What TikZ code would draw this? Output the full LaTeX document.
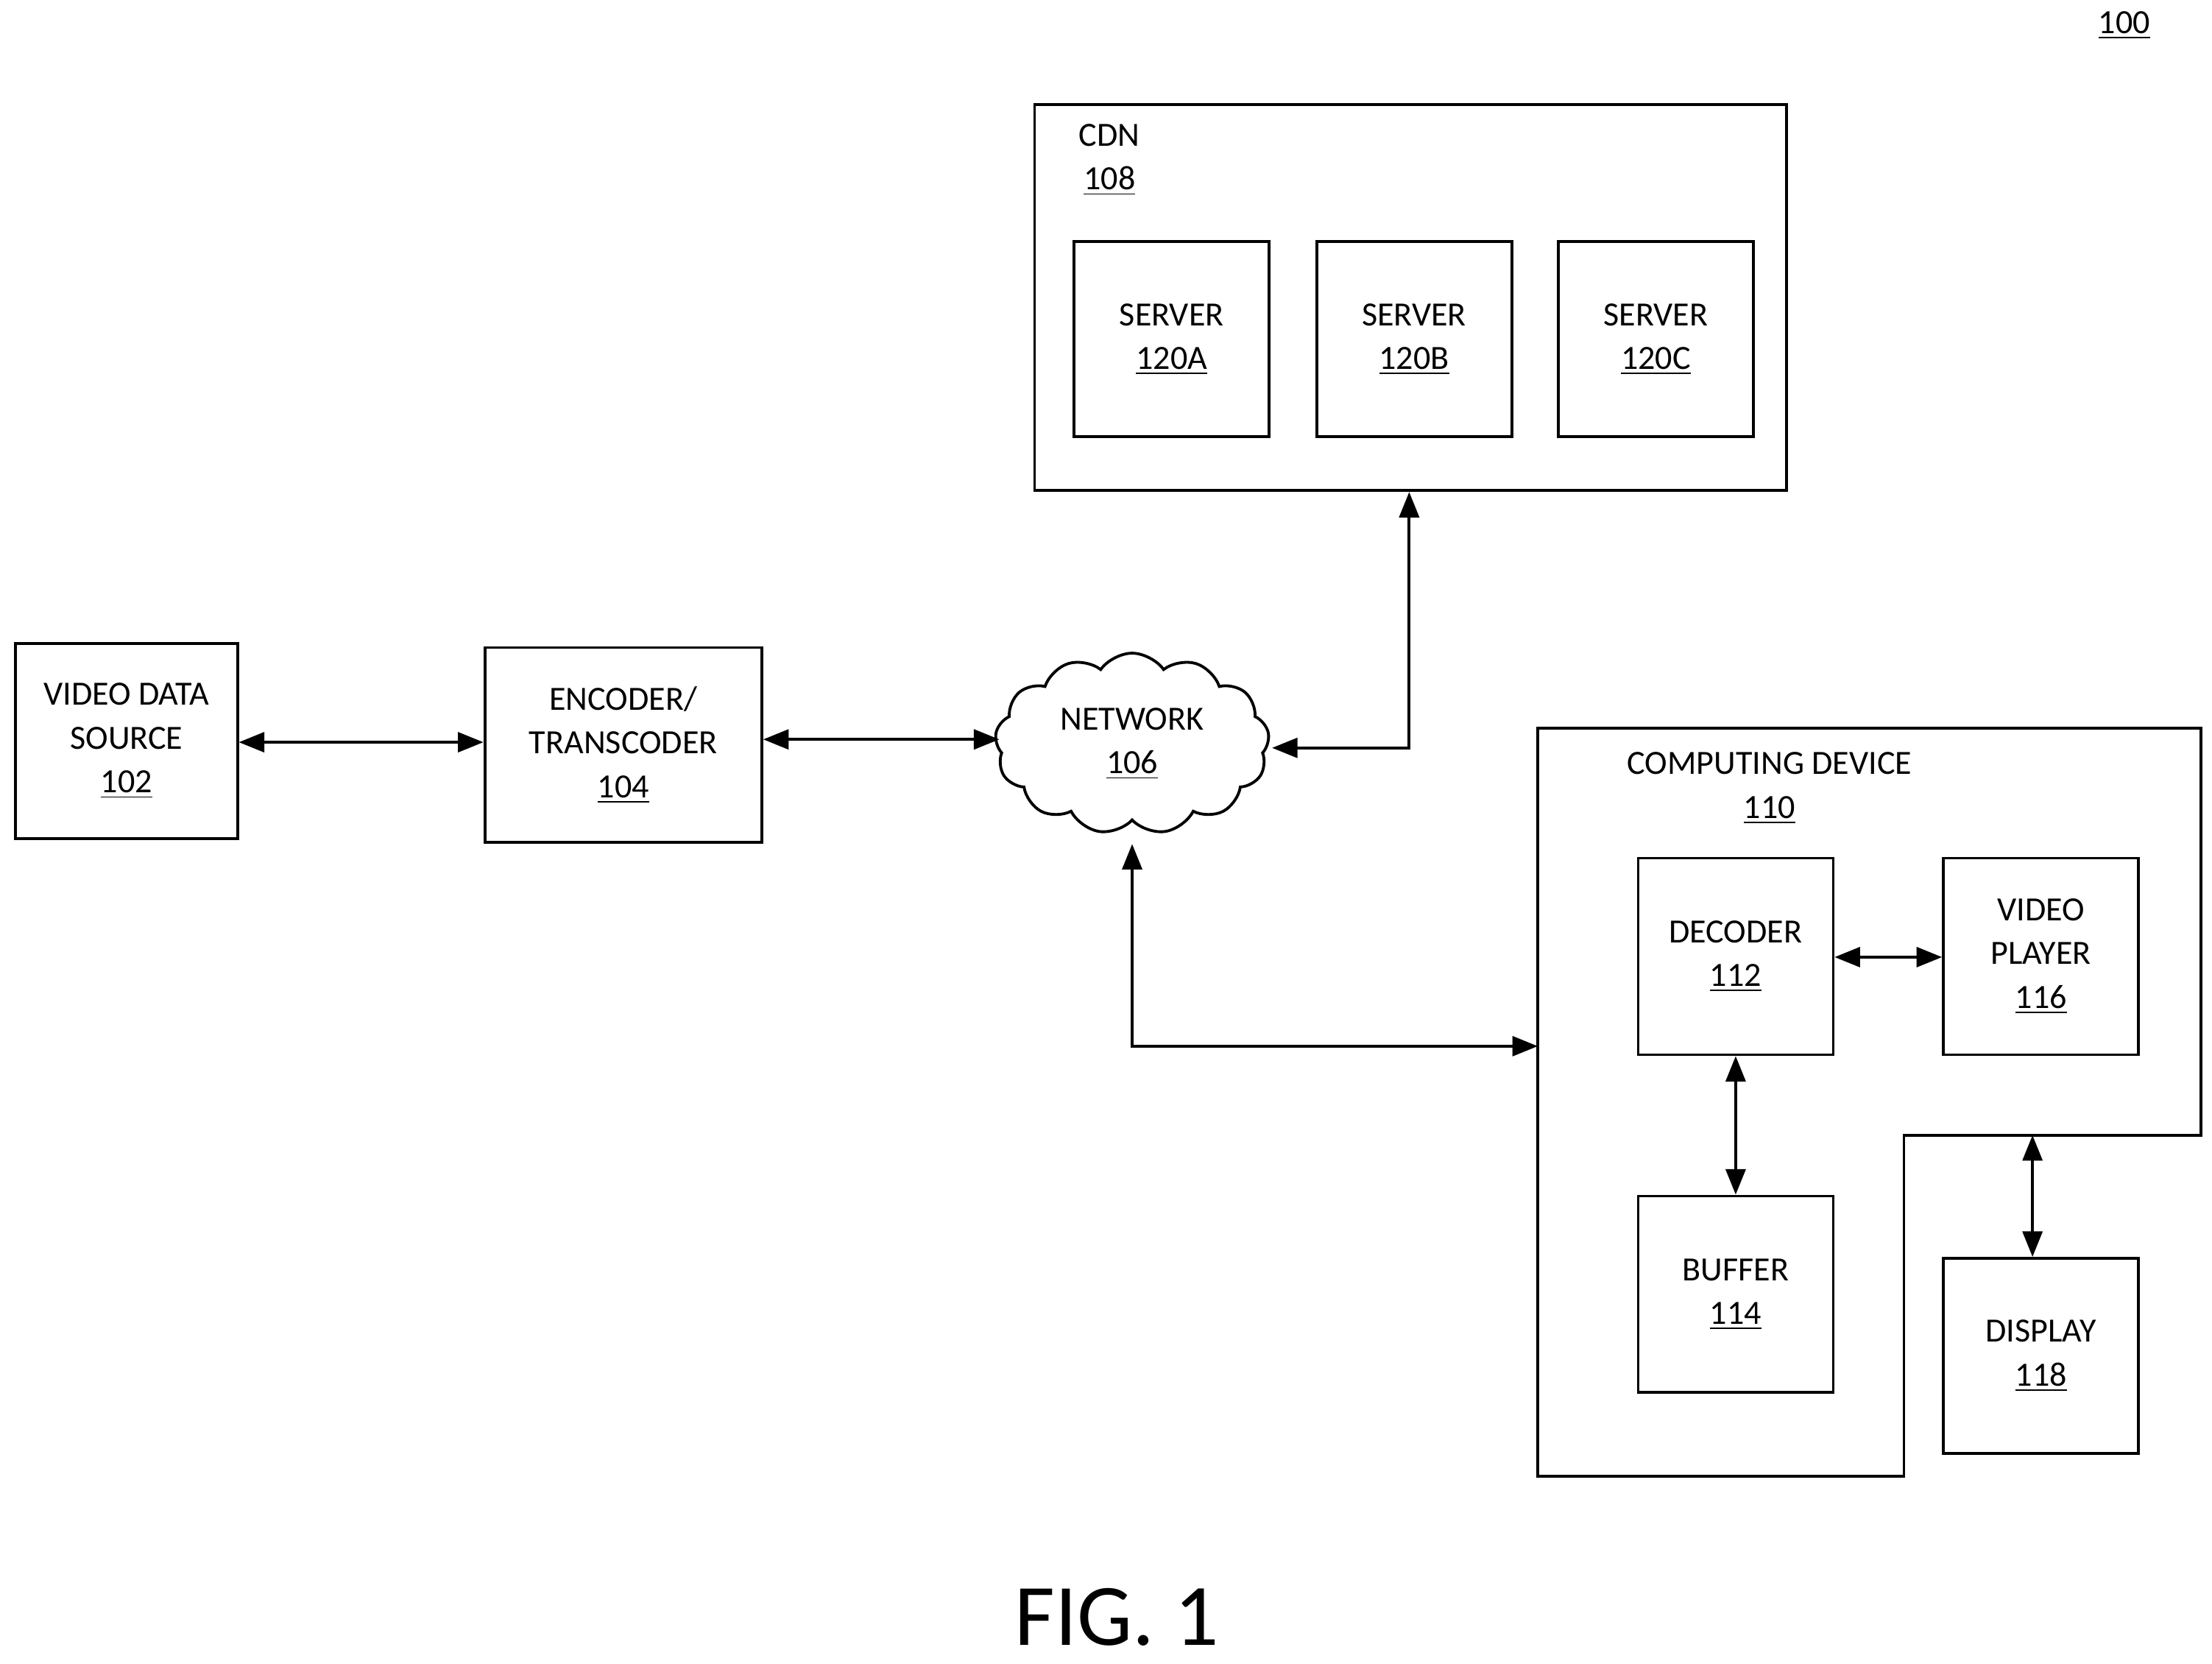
\documentclass[tikz,border=0pt]{standalone}
\usepackage{fontspec}
\setmainfont{Carlito}
\usetikzlibrary{arrows.meta,shapes.symbols}
\begin{document}
\begin{tikzpicture}[x=0.5pt,y=-0.5pt,
  box/.style={draw,line width=1pt,align=center,inner sep=0pt},
  lbl/.style={align=center,inner sep=0pt},
  ar/.style={line width=1pt,{Triangle[length=9pt,width=7pt]}-{Triangle[length=9pt,width=7pt]}},
  every node/.style={font=\fontsize{12}{15.5}\selectfont}]
\useasboundingbox (0,0) rectangle (1565,1177);
\node[lbl] (n100) at (1503,18) {\underline{100}};
% CDN
\node[box,minimum width=266pt,minimum height=136.5pt] (cdn) at (998,210.5) {};
\node[lbl] (cdnl) at (785,113) {CDN\\\underline{108}};
\foreach \n/\x/\t in {sa/829/120A,sb/1000.5/120B,sc/1171.5/120C}
  \node[box,minimum width=69pt,minimum height=69pt] (\n) at (\x,240) {SERVER\\\underline{\t}};
\node[box,minimum width=78.5pt,minimum height=69pt] (vds) at (89.5,524) {VIDEO DATA\\SOURCE\\\underline{102}};
\node[box,minimum width=98pt,minimum height=69pt] (enc) at (441,527) {ENCODER/\\TRANSCODER\\\underline{104}};
\node[draw,line width=1pt,cloud,cloud puffs=13,cloud puff arc=110,aspect=1.6,minimum width=97pt,minimum height=64pt,align=center,inner sep=0pt] (net) at (801,526) {NETWORK\\\underline{106}};
% computing device
\draw[line width=1pt] (1088,515) coordinate (cd) -- (1557,515) -- (1557,803) -- (1347,803) coordinate (notch) -- (1347,1044) -- (1088,1044) -- cycle;
\node[lbl] (cdl) at (1252,557.5) {COMPUTING DEVICE\\\underline{110}};
\node[box,minimum width=69pt,minimum height=69.5pt] (dec) at (1228,676.5) {DECODER\\\underline{112}};
\node[box,minimum width=69pt,minimum height=69.5pt] (vp) at (1444,676.5) {VIDEO\\PLAYER\\\underline{116}};
\node[box,minimum width=69pt,minimum height=69.5pt] (buf) at (1228,915.5) {BUFFER\\\underline{114}};
\node[box,minimum width=69pt,minimum height=69pt] (disp) at (1444,959) {DISPLAY\\\underline{118}};
\coordinate (cdin) at (1088,740);
\coordinate (cdb) at (1438,803);
\draw[ar] (vds.east |- 0,525) -- (enc.west |- 0,525);
\draw[ar] (enc.east |- 0,523) -- (707,523);
\draw[ar] (900,529) -- (997,529) -- (cdn.south -| 997,0);
\draw[ar] (801,597) -- (801,740) -- (cdin);
\draw[ar] (dec.east |- 0,677) -- (vp.west |- 0,677);
\draw[ar] (dec.south) -- (buf.north);
\draw[ar] (cdb) -- (disp.north -| cdb);
\node[lbl,font=\fontsize{31}{36}\selectfont] (fig) at (790,1144) {FIG. 1};
\end{tikzpicture}
\end{document}
